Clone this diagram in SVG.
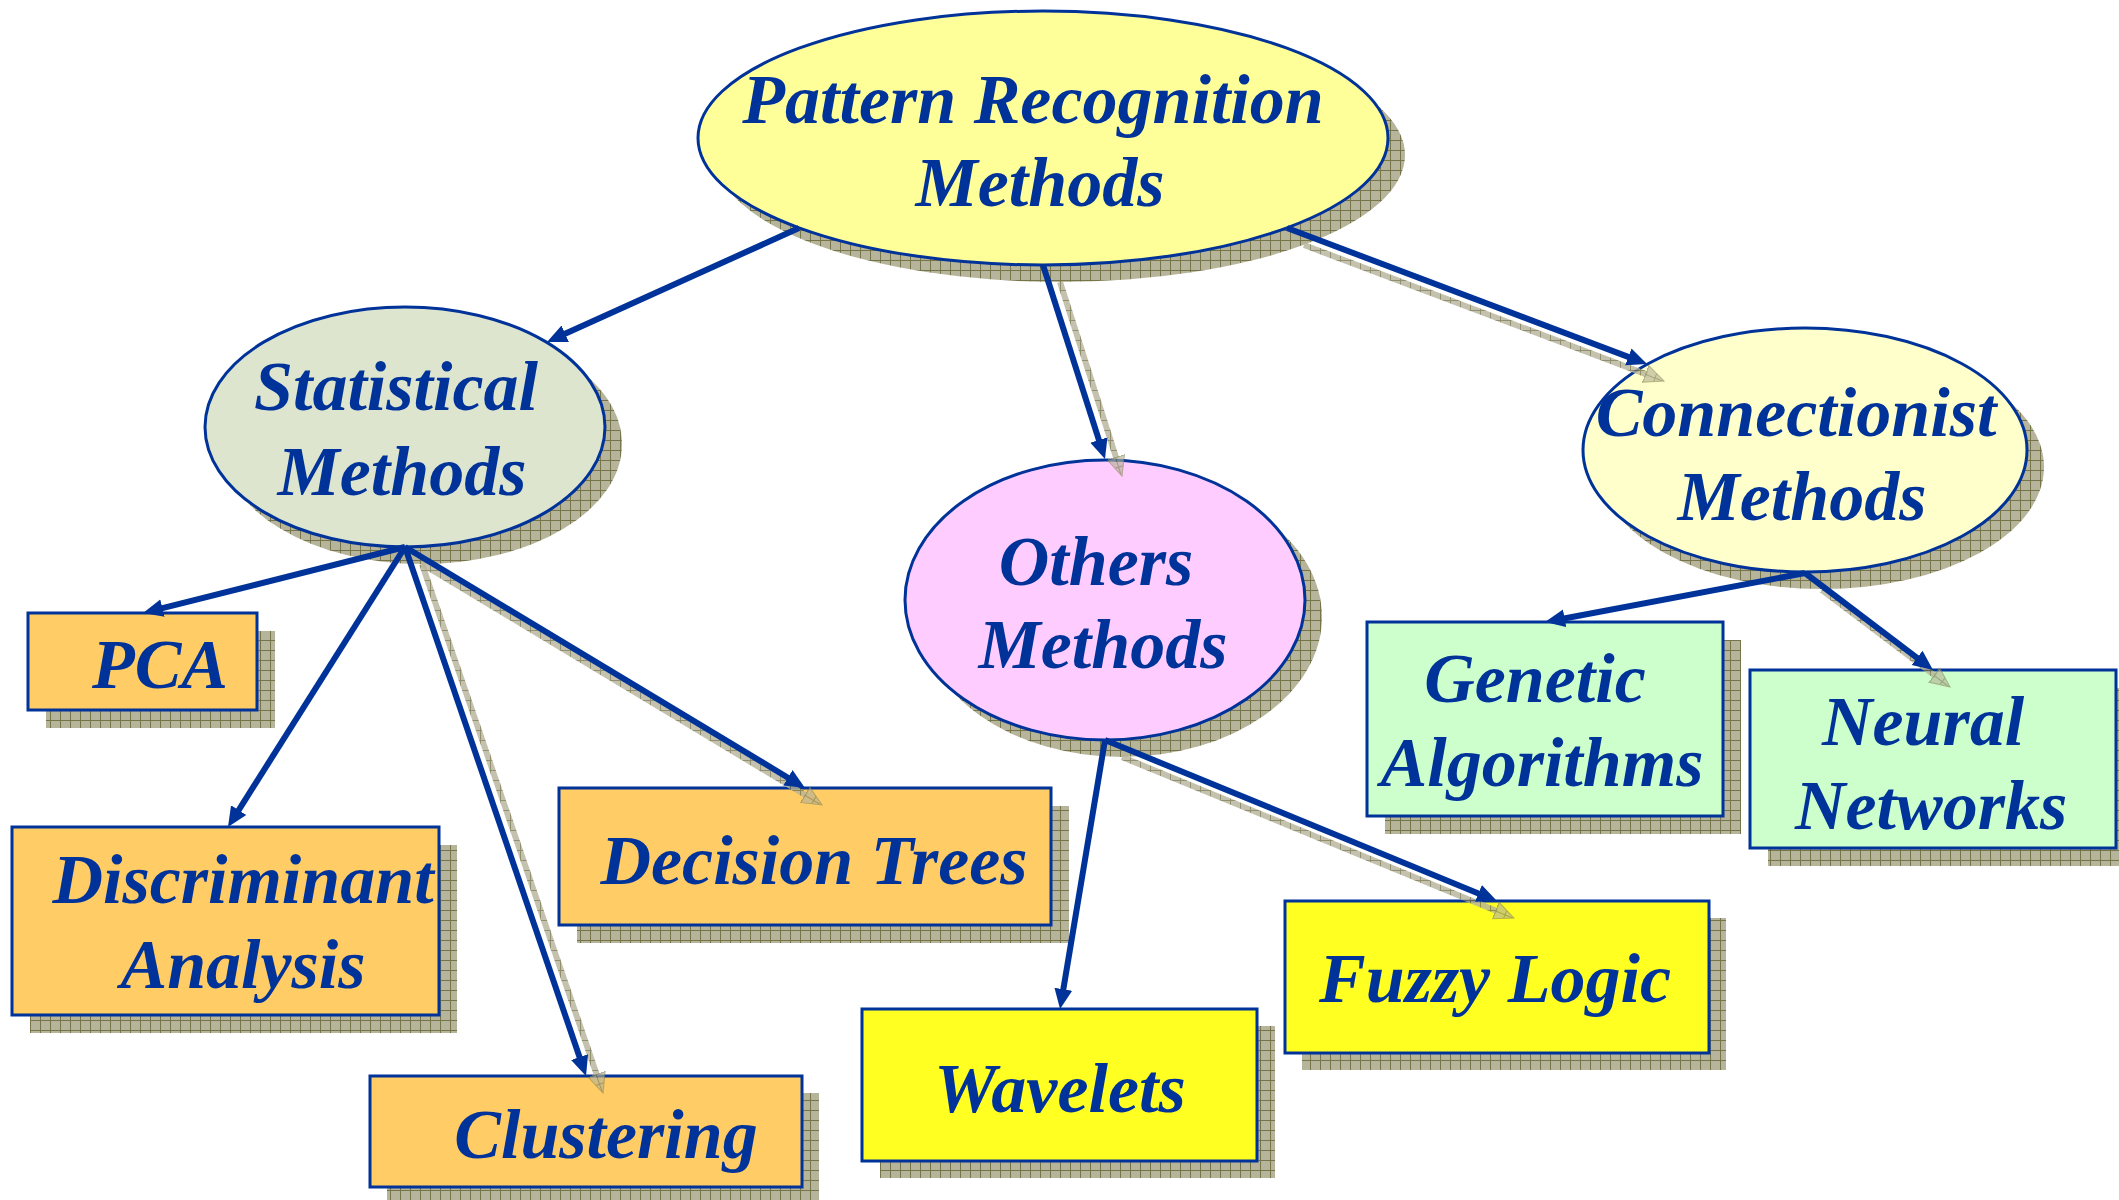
<svg xmlns="http://www.w3.org/2000/svg" width="2119" height="1200" viewBox="0 0 2119 1200">
  <defs>
    <!-- checkered shadow fill -->
    <pattern id="grid" width="10" height="10" patternUnits="userSpaceOnUse">
      <rect width="10" height="10" fill="#b6b49a"/>
      <path d="M0,0.5 H10 M0.5,0 V10" stroke="#76754a" stroke-width="1"/>
    </pattern>
    <marker id="head" markerUnits="userSpaceOnUse" markerWidth="24" markerHeight="22" refX="2" refY="10" orient="auto">
      <path d="M0,1 L20,10 L0,19 Z" fill="#003399"/>
    </marker>
    <marker id="headShadow" markerUnits="userSpaceOnUse" markerWidth="24" markerHeight="22" refX="2" refY="10" orient="auto">
      <path d="M0,1 L20,10 L0,19 Z" fill="url(#grid)" stroke="#8a8958" stroke-width="1" opacity="0.8"/>
    </marker>
  </defs>
  <style>
    .shadow { fill: url(#grid); }
    .node { stroke: #003399; stroke-width: 3; }
    .label { font-family: "Liberation Serif", "Times New Roman", serif; font-weight: bold; font-style: italic; font-size: 70px; fill: #003399; text-anchor: middle; }
    .edge { fill: none; stroke: #003399; stroke-width: 6; marker-end: url(#head); }
    .edge-shadow { fill: none; stroke: url(#grid); stroke-width: 6; opacity: 0.8; marker-end: url(#headShadow); }
    .yellow { fill: #ffff99; }
    .sage { fill: #dde5cf; }
    .pink { fill: #ffccff; }
    .cream { fill: #ffffcc; }
    .orange { fill: #ffcc66; }
    .lemon { fill: #ffff22; }
    .mint { fill: #ccffcc; }
  </style>

  <rect width="2119" height="1200" fill="#ffffff"/>

  <!-- root -->
  <g id="pattern-recognition">
    <ellipse class="shadow" cx="1060" cy="155" rx="345" ry="127"/>
    <ellipse class="node yellow" cx="1043" cy="138" rx="345" ry="127"/>
    <text class="label" x="1033" y="123">Pattern Recognition</text>
    <text class="label" x="1040" y="206">Methods</text>
  </g>

  <!-- second level -->
  <g id="statistical">
    <ellipse class="shadow" cx="422" cy="444" rx="200" ry="120"/>
    <ellipse class="node sage" cx="405" cy="427" rx="200" ry="120"/>
    <text class="label" x="396" y="410">Statistical</text>
    <text class="label" x="402" y="495">Methods</text>
  </g>

  <g id="others">
    <ellipse class="shadow" cx="1122" cy="617" rx="200" ry="140"/>
    <ellipse class="node pink" cx="1105" cy="600" rx="200" ry="140"/>
    <text class="label" x="1096" y="585">Others</text>
    <text class="label" x="1103" y="668">Methods</text>
  </g>

  <g id="connectionist">
    <ellipse class="shadow" cx="1822" cy="467" rx="222" ry="122"/>
    <ellipse class="node cream" cx="1805" cy="450" rx="222" ry="122"/>
    <text class="label" x="1796" y="436">Connectionist</text>
    <text class="label" x="1802" y="520">Methods</text>
  </g>

  <!-- leaves -->
  <g id="pca">
    <rect class="shadow" x="46" y="631" width="229" height="97"/>
    <rect class="node orange" x="28" y="613" width="229" height="97"/>
    <text class="label" x="160" y="688">PCA</text>
  </g>

  <g id="discriminant-analysis">
    <rect class="shadow" x="30" y="845" width="427" height="188"/>
    <rect class="node orange" x="12" y="827" width="427" height="188"/>
    <text class="label" x="243" y="903">Discriminant</text>
    <text class="label" x="243" y="988">Analysis</text>
  </g>

  <g id="decision-trees">
    <rect class="shadow" x="577" y="806" width="492" height="137"/>
    <rect class="node orange" x="559" y="788" width="492" height="137"/>
    <text class="label" x="814" y="884">Decision Trees</text>
  </g>

  <g id="clustering">
    <rect class="shadow" x="387" y="1093" width="432" height="111"/>
    <rect class="node orange" x="370" y="1076" width="432" height="111"/>
    <text class="label" x="606" y="1158">Clustering</text>
  </g>

  <g id="wavelets">
    <rect class="shadow" x="880" y="1026" width="395" height="152"/>
    <rect class="node lemon" x="862" y="1009" width="395" height="152"/>
    <text class="label" x="1060" y="1112">Wavelets</text>
  </g>

  <g id="fuzzy-logic">
    <rect class="shadow" x="1302" y="918" width="424" height="152"/>
    <rect class="node lemon" x="1285" y="901" width="424" height="152"/>
    <text class="label" x="1495" y="1002">Fuzzy Logic</text>
  </g>

  <g id="genetic-algorithms">
    <rect class="shadow" x="1385" y="640" width="356" height="194"/>
    <rect class="node mint" x="1367" y="622" width="356" height="194"/>
    <text class="label" x="1535" y="702">Genetic</text>
    <text class="label" x="1542" y="786">Algorithms</text>
  </g>

  <g id="neural-networks">
    <rect class="shadow" x="1768" y="688" width="366" height="178"/>
    <rect class="node mint" x="1750" y="670" width="366" height="178"/>
    <text class="label" x="1923" y="745">Neural</text>
    <text class="label" x="1931" y="829">Networks</text>
  </g>

  <!-- connectors: offset shadows first, then the arrows -->
  <g id="connectors">
    <path class="edge-shadow" d="M1060,282 L1116.5,458.9"/>
    <path class="edge-shadow" d="M1304,245 L1647.2,374.6"/>
    <path class="edge-shadow" d="M422,564 L597.2,1076"/>
    <path class="edge-shadow" d="M422,564 L806.6,795.7"/>
    <path class="edge-shadow" d="M1122,757 L1497.3,911.2"/>
    <path class="edge-shadow" d="M1822,590 L1935.7,676.1"/>

    <path class="edge" d="M799,228 L563.4,334.6"/>
    <path class="edge" d="M1043,265 L1099.5,441.9"/>
    <path class="edge" d="M1287,228 L1630.2,357.6"/>
    <path class="edge" d="M405,547 L160.5,608.6"/>
    <path class="edge" d="M405,547 L237.6,811.8"/>
    <path class="edge" d="M405,547 L580.2,1059"/>
    <path class="edge" d="M405,547 L789.6,778.7"/>
    <path class="edge" d="M1105,740 L1063,991.2"/>
    <path class="edge" d="M1105,740 L1480.3,894.2"/>
    <path class="edge" d="M1805,573 L1562.7,618.7"/>
    <path class="edge" d="M1805,573 L1918.7,659.1"/>
  </g>
</svg>
